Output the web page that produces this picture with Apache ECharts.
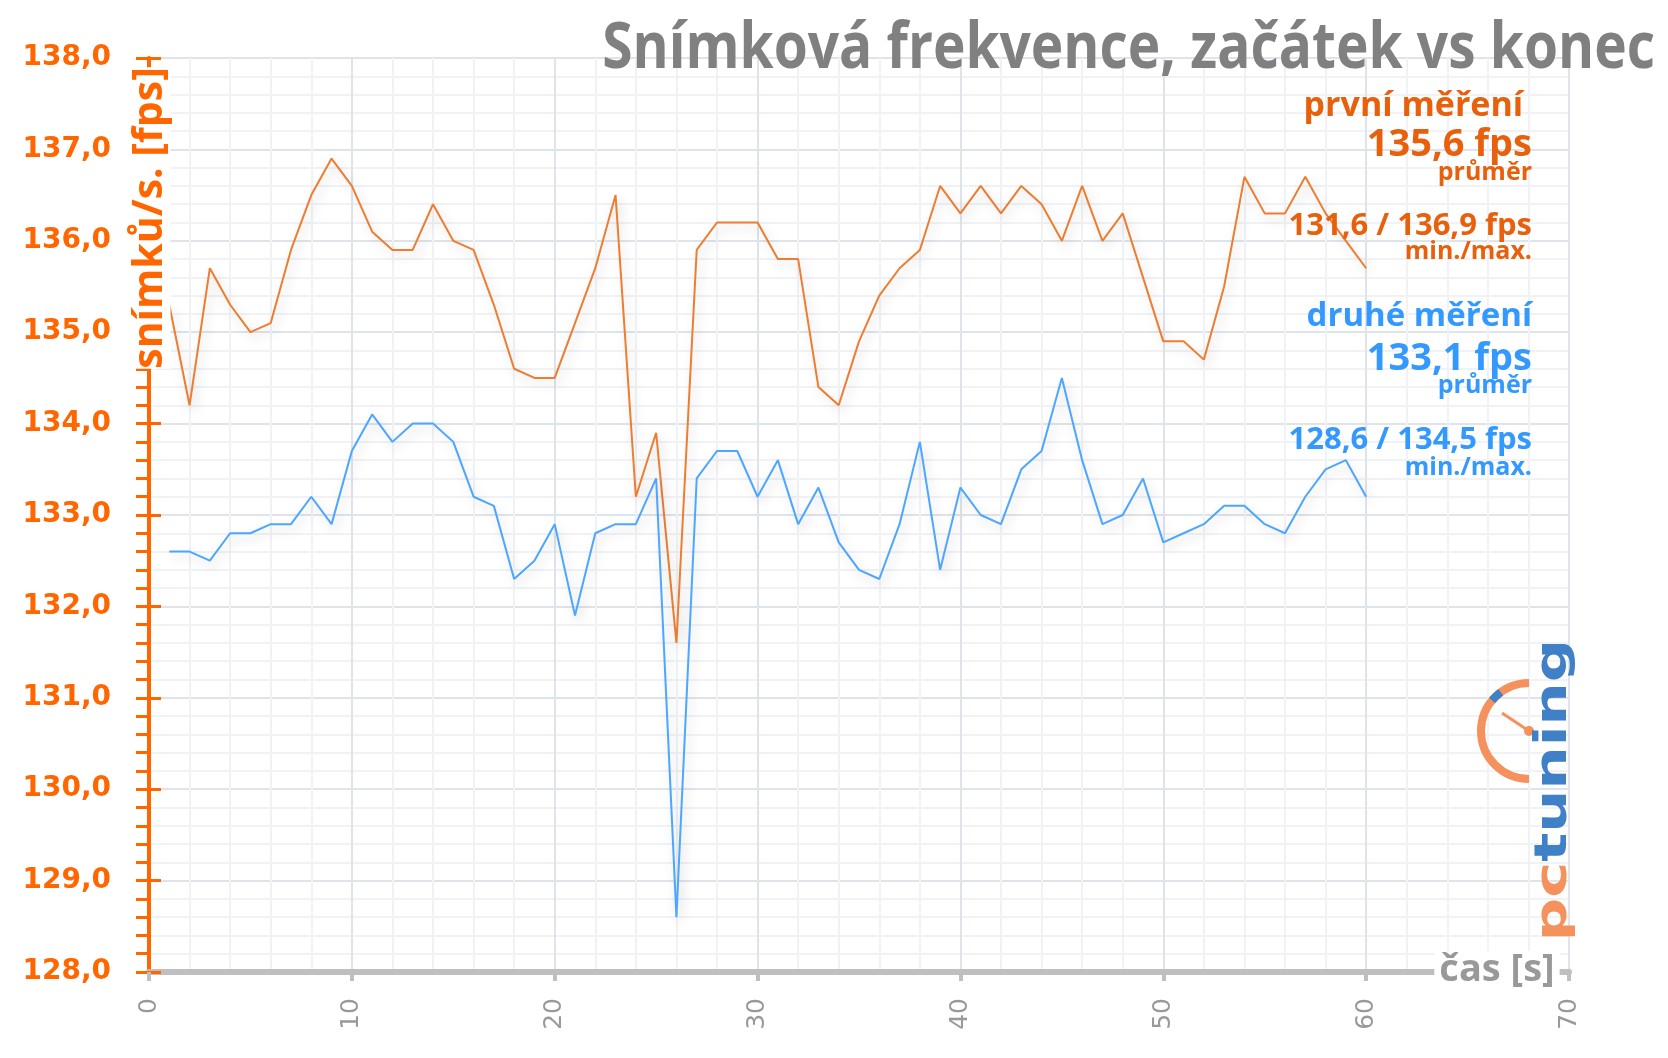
<!DOCTYPE html>
<html>
<head>
<meta charset="utf-8">
<script src="https://cdn.jsdelivr.net/npm/echarts@6/dist/echarts.min.js"></script>
<style>
html,body{margin:0;padding:0;background:#ffffff;}
#chart{width:1668px;height:1058px;}
</style>
</head>
<body>
<div id="chart"></div>
<script>
// ---- data ----
const seconds = [1,2,3,4,5,6,7,8,9,10,11,12,13,14,15,16,17,18,19,20,21,22,23,24,25,26,27,28,29,30,31,32,33,34,35,36,37,38,39,40,41,42,43,44,45,46,47,48,49,50,51,52,53,54,55,56,57,58,59,60];
const firstRun = [135.3,134.2,135.7,135.3,135.0,135.1,135.9,136.5,136.9,136.6,
                  136.1,135.9,135.9,136.4,136.0,135.9,135.3,134.6,134.5,134.5,
                  135.1,135.7,136.5,133.2,133.9,131.6,135.9,136.2,136.2,136.2,
                  135.8,135.8,134.4,134.2,134.9,135.4,135.7,135.9,136.6,136.3,
                  136.6,136.3,136.6,136.4,136.0,136.6,136.0,136.3,135.6,134.9,
                  134.9,134.7,135.5,136.7,136.3,136.3,136.7,136.3,136.0,135.7];
const secondRun = [132.6,132.6,132.5,132.8,132.8,132.9,132.9,133.2,132.9,133.7,
                   134.1,133.8,134.0,134.0,133.8,133.2,133.1,132.3,132.5,132.9,
                   131.9,132.8,132.9,132.9,133.4,128.6,133.4,133.7,133.7,133.2,
                   133.6,132.9,133.3,132.7,132.4,132.3,132.9,133.8,132.4,133.3,
                   133.0,132.9,133.5,133.7,134.5,133.6,132.9,133.0,133.4,132.7,
                   132.8,132.9,133.1,133.1,132.9,132.8,133.2,133.5,133.6,133.2];
const yRange = [128, 138];
const xRange = [0, 70];
const titleText = 'Snímková frekvence, začátek vs konec';
const yName = 'snímků/s. [fps]';
const xName = 'čas [s]';
const firstLabels = ['první měření ', '135,6 fps', 'průměr', '131,6 / 136,9 fps', 'min./max.'];
const secondLabels = ['druhé měření', '133,1 fps', 'průměr', '128,6 / 134,5 fps', 'min./max.'];

// ---- styles ----
const ORANGE = '#FF6600';
const ORANGE_TXT = '#E8600C';
const ORANGE_LINE = '#ED7D31';
const BLUE_TXT = '#3399FF';
const BLUE_LINE = '#4DA6FF';
const GRAY = '#999999';
const SANS = '"Open Sans", sans-serif';

const chart = echarts.init(document.getElementById('chart'), null, {renderer: 'canvas'});

function pairs(xs, ys){ return xs.map((x,i)=>[x, ys[i]]); }

const annX = 1532;
function annot(lines, color, ys, sizes){
  return lines.map((t,i)=>({
    type:'text', z: 50,
    x: annX, y: ys[i],
    style:{ text:t, fill:color, font:'bold '+sizes[i]+'px '+SANS, textAlign:'right', textVerticalAlign:'middle' }
  }));
}

const option = {
  animation:false,
  backgroundColor:'#ffffff',
  grid:{ left:149, right:99, top:58, bottom:86, containLabel:false },
  xAxis:{
    type:'value', min:xRange[0], max:xRange[1], interval:10,
    axisLine:{ show:true, onZero:false, lineStyle:{ color:'#BFBFBF', width:6 } },
    axisTick:{ show:true, length:9, lineStyle:{ color:'#BFBFBF', width:4 } },
    axisLabel:{ rotate:90, margin:26, color:GRAY, fontSize:25, fontFamily:'DejaVu Sans' },
    splitLine:{ show:true, lineStyle:{ color:'#DFE4EB', width:2 } },
    minorTick:{ show:false, splitNumber:5 },
    minorSplitLine:{ show:true, lineStyle:{ color:'#F0F2F5', width:2 } }
  },
  yAxis:[{
    type:'value', min:yRange[0], max:yRange[1], interval:1, position:'left',
    axisLine:{ show:true, lineStyle:{ color:ORANGE, width:4 } },
    axisTick:{ show:true, length:13, lineStyle:{ color:ORANGE, width:3 } },
    minorTick:{ show:true, splitNumber:5, length:13, lineStyle:{ color:ORANGE, width:3 } },
    axisLabel:{ margin:38, color:ORANGE, fontSize:28, fontWeight:'bold', fontFamily:'DejaVu Sans',
      formatter:(v)=>v.toFixed(1).replace('.', ',') },
    splitLine:{ show:true, lineStyle:{ color:'#DFE4EB', width:2 } },
    minorSplitLine:{ show:true, lineStyle:{ color:'#F0F2F5', width:2 } }
  },{
    type:'value', min:yRange[0], max:yRange[1], interval:1, position:'left', offset:0,
    axisLine:{ show:false },
    axisTick:{ show:true, inside:true, length:12, lineStyle:{ color:ORANGE, width:3 } },
    axisLabel:{ show:false }, splitLine:{ show:false }
  }],
  series:[{
    name:'první měření', type:'line', data: pairs(seconds, firstRun), showSymbol:false, z:3,
    lineStyle:{ color:ORANGE_LINE, width:2, shadowColor:'rgba(0,0,0,0.2)', shadowBlur:12, shadowOffsetX:3, shadowOffsetY:5 }
  },{
    name:'druhé měření', type:'line', data: pairs(seconds, secondRun), showSymbol:false, z:3,
    lineStyle:{ color:BLUE_LINE, width:2, shadowColor:'rgba(0,0,0,0.2)', shadowBlur:12, shadowOffsetX:3, shadowOffsetY:5 }
  }],
  graphic: [].concat(
    annot(firstLabels, ORANGE_TXT, [106, 145, 173, 226, 252], [34, 38, 25, 31, 25]),
    annot(secondLabels, BLUE_TXT, [317, 359, 386, 440, 468], [33, 38, 25, 31, 25]),
    [
      { type:'text', z:60, x:1655, y:50, scaleX:0.86, scaleY:1,
        style:{ text:titleText, fill:'#808080', font:'bold 64px '+SANS, textAlign:'right', textVerticalAlign:'middle' } },
      { type:'text', z:40, x:150, y:218, rotation:Math.PI/2, scaleX:1,
        style:{ text:yName, fill:ORANGE, font:'bold 41px '+SANS, textAlign:'center', textVerticalAlign:'middle',
                backgroundColor:'#ffffff', padding:[0,0] } },
      { type:'text', z:40, x:1497, y:970,
        style:{ text:xName, fill:GRAY, font:'bold 38px '+SANS, textAlign:'center', textVerticalAlign:'middle',
                backgroundColor:'#ffffff', padding:[0,5] } },
      // logo: gauge arc
      { type:'arc', z:30, shape:{ cx:1529, cy:731, r:48, startAngle:Math.PI/2, endAngle:-Math.PI/2, clockwise:true },
        style:{ stroke:'#F4915C', lineWidth:8, fill:null } },
      { type:'arc', z:31, shape:{ cx:1529, cy:731, r:48, startAngle:-Math.PI*0.78, endAngle:-Math.PI*0.70, clockwise:true },
        style:{ stroke:'#3F80C6', lineWidth:8, fill:null } },
      { type:'line', z:31, shape:{ x1:1529, y1:731, x2:1502, y2:713 }, style:{ stroke:'#F4915C', lineWidth:3 } },
      { type:'circle', z:31, shape:{ cx:1529, cy:731, r:5 }, style:{ fill:'#F4915C' } },
      { type:'text', z:32, x:1555, y:790, rotation:Math.PI/2, scaleX:1.38,
        style:{ text:'{a|pc}{b|tuning}', textAlign:'center', textVerticalAlign:'middle',
          rich:{ a:{ fill:'#F4915C', font:'bold 44px "DejaVu Sans"' }, b:{ fill:'#3F80C6', font:'bold 44px "DejaVu Sans"' } } } }
    ]
  )
};
chart.setOption(option);
</script>
</body>
</html>
